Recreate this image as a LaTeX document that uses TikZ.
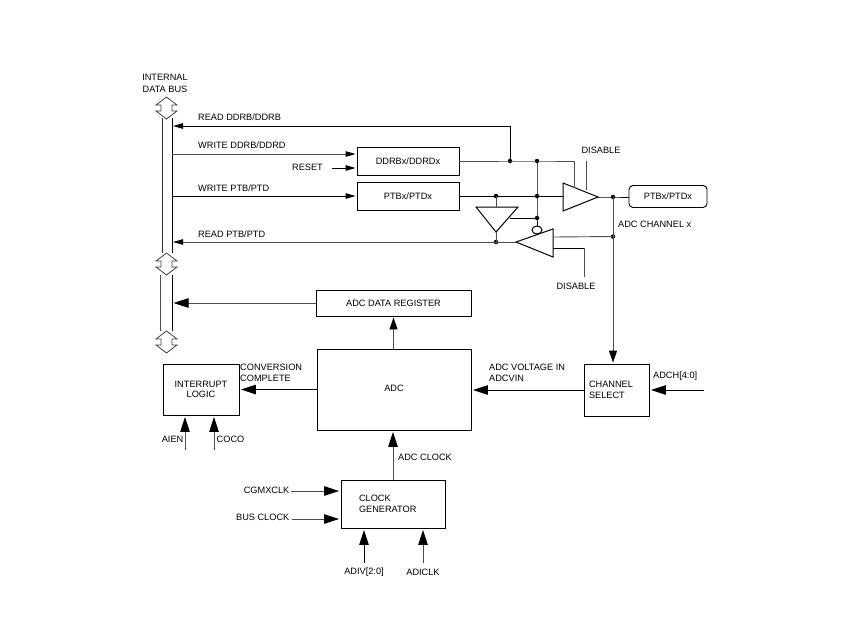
\documentclass[tikz,border=0pt]{standalone}
\usepackage{fontspec}
\setmainfont{Liberation Sans}
\usetikzlibrary{arrows.meta,positioning,calc,shapes.geometric}
\tikzset{
  block/.style = {draw, line width = .9pt, inner sep = 0pt, align = center},
  lbl/.style = {inner sep = 0pt, align = left, font = \fontsize{9.2}{11.5}\selectfont},
  dot/.style = {circle, fill = black, inner sep = 0pt, minimum size = 4.5pt},
  wire/.style = {line width = .9pt, black!70},
  bold/.style = {line width = 1pt, black},
  tipbig/.style = {-{Triangle[length = 15pt, width = 9.5pt, color = black]}, shorten > = 1.5pt},
  tipmid/.style = {-{Triangle[length = 12pt, width = 8pt, color = black]}, shorten > = 1pt},
  tipsmall/.style = {-{Triangle[length = 10pt, width = 5.5pt, color = black]}, shorten > = 1pt},
  busarrow/.pic = {
    \draw[line width = .8pt, black!75, fill = white] (0,-11) -- (-10.5,-3) -- (-5.5,-3) -- (-5.5,3) -- (-10.5,3) -- (0,11)
      -- (10.5,3) -- (5.5,3) -- (5.5,-3) -- (10.5,-3) -- cycle;
  }
}

\begin{document}
\begin{tikzpicture}[x = 1pt, y = -1pt]
  \useasboundingbox (0,0) rectangle (850,638);

  % blocks
  \node[block, minimum width = 102pt, minimum height = 28pt] (ddr) at (408,161) {\fontsize{9.2}{11}\selectfont DDRBx/DDRDx};
  \node[block, minimum width = 102pt, minimum height = 28pt] (ptb) at (408,196) {\fontsize{9.2}{11}\selectfont PTBx/PTDx};
  \node[block, minimum width = 155pt, minimum height = 26pt] (reg) at (393.5,303) {\fontsize{9.2}{11}\selectfont ADC DATA REGISTER};
  \node[block, minimum width = 154pt, minimum height = 81pt] (adc) at (394,389.5) {\fontsize{9.2}{11}\selectfont \raisebox{3pt}{ADC}};
  \node[block, minimum width = 76pt, minimum height = 51pt, font = \fontsize{9.2}{10.5}\selectfont] (irq) at (201,389.5) {INTERRUPT\\LOGIC};
  \node[block, minimum width = 104pt, minimum height = 48pt, text width = 68pt, align = left, font = \fontsize{9.2}{10.5}\selectfont] (clk) at (393,504) {CLOCK\\GENERATOR};
  \node[block, minimum width = 65pt, minimum height = 52pt, text width = 55pt, align = left, font = \fontsize{9.2}{11.5}\selectfont] (sel) at (616.5,390) {CHANNEL\\SELECT};
  \node[block, rounded corners = 4pt, minimum width = 78pt, minimum height = 22pt] (pad) at (668,196.5) {\fontsize{9.2}{11}\selectfont PTBx/PTDx};

  % bus rails
  \coordinate (rd) at (172,126);
  \coordinate (wd) at (172,154);
  \coordinate (wp) at (172,196);
  \coordinate (rp) at (172,242);
  \coordinate (ra) at (172,303);
  \draw[line width = .9pt, black!80] (162,118) -- (162,253);
  \draw[line width = .9pt, black!70] (160.5,275) -- (160.5,331);
  \draw[bold] (172,118) -- (172,253);
  \draw[bold] (172,275) -- (172,331);
  \foreach \y in {108,264,342}
    \pic at (166.5,\y) {busarrow};

  % port drivers
  \coordinate (oa) at (563,183);
  \coordinate (ob) at (563,211);
  \coordinate (oc) at (598,197);
  \coordinate (ia) at (476,207);
  \coordinate (ib) at (518,207);
  \coordinate (ic) at (496,232);
  \coordinate (ie) at (510,218);
  \coordinate (ra1) at (516,242);
  \coordinate (ra2) at (553,229);
  \coordinate (ra3) at (553,257);
  \draw[bold, line join = miter] (oa) -- (ob) -- (oc) -- cycle;
  \draw[bold, line join = miter] (ia) -- (ib) -- (ic) -- cycle;
  \draw[bold, line join = miter] (ra1) -- (ra2) -- (ra3) -- cycle;
  \node[draw, bold, ellipse, inner sep = 0pt, minimum width = 10pt, minimum height = 8pt] (inv) at (537,230) {};

  % junctions
  \node[dot] (j1) at (510,161) {};
  \node[dot] (j2) at (537,161) {};
  \node[dot] (j3) at (496,196) {};
  \node[dot] (j4) at (537,196) {};
  \node[dot] (j5) at (537,218) {};
  \node[dot] (j6) at (496,242) {};
  \node[dot] (j7) at (613,197) {};
  \node[dot] (j8) at (613,236.5) {};

  % register side
  \draw[bold, tipsmall] (j1.center) -- (510,126) -- (rd);
  \draw[wire, tipsmall] (wd) -- (ddr.west |- wd);
  \coordinate (rst) at (332,168);
  \draw[bold, tipsmall] (rst) -- (ddr.west |- rst);
  \draw[bold, tipsmall] (wp) -- (ptb.west |- wp);
  \draw[wire] (ddr.east) -- (j2.center) -- (574,161) -- (574,188);
  \draw[bold] (ptb.east) -- (oa |- ptb.east);
  \draw[bold] (j2.center) -- (j5.center) -- (inv.north);
  \draw[bold] (ie) -- (j5.center);
  \draw[wire] (j3.center) -- (j3 |- ia);
  \draw[wire] (ic) -- (j6.center);
  \draw[wire, tipsmall] (ra1) -- (rp);
  \draw[wire] (553,237) -- (j8.center);
  \draw[bold] (553,248) -- (584,248);
  \draw[wire] (584,248) -- (584,277);
  \draw[wire] (586,161) -- (586,190);
  \draw[bold] (oc) -- (j7.center) -- (pad.west |- j7);
  \draw[wire, tipmid] (j7.center) -- (sel.north -| j7);

  % conversion side
  \draw[wire, tipbig] (reg.west) -- (ra);
  \draw[wire, tipmid] (adc.north -| reg) -- (reg.south);
  \draw[bold, tipbig] (adc.west |- irq) -- (irq.east);
  \draw[bold, tipbig] (sel.west) -- (adc.east |- sel);
  \coordinate (chn) at (704,390);
  \draw[bold, tipbig] (chn) -- (sel.east);
  \coordinate (ien) at (185,450);
  \coordinate (cco) at (214,450);
  \draw[wire, tipbig] (ien) -- (irq.south -| ien);
  \draw[wire, tipbig] (cco) -- (irq.south -| cco);
  \draw[wire, tipbig] (clk.north) -- (adc.south -| clk);
  \coordinate (cgm) at (291,491);
  \coordinate (bus) at (292,519);
  \coordinate (adv) at (364,563);
  \coordinate (adk) at (423,563);
  \draw[wire, tipbig] (cgm) -- (clk.west |- cgm);
  \draw[wire, tipbig] (bus) -- (clk.west |- bus);
  \draw[bold, tipbig] (adv) -- (clk.south -| adv);
  \draw[wire, tipbig] (adk) -- (clk.south -| adk);

  % labels
  \node[lbl, align = center] (busname) at (165,83.5) {INTERNAL\\DATA BUS};
  \node[lbl, anchor = west] (t1) at (198,117) {READ DDRB/DDRB};
  \node[lbl, anchor = west] (t2) at (198,145.5) {WRITE DDRB/DDRD};
  \node[lbl, anchor = east] (t3) at (323,167) {RESET};
  \node[lbl, anchor = west] (t4) at (198,188) {WRITE PTB/PTD};
  \node[lbl, anchor = west] (t5) at (198,234) {READ PTB/PTD};
  \node[lbl] (t6) at (601,150.5) {DISABLE};
  \node[lbl] (t7) at (576,286.5) {DISABLE};
  \node[lbl, anchor = west] (t8) at (618,224.5) {ADC CHANNEL x};
  \node[lbl, anchor = west] (t9) at (240,373) {CONVERSION\\COMPLETE};
  \node[lbl, anchor = west] (t10) at (489,373) {ADC VOLTAGE IN\\ADCVIN};
  \node[lbl, anchor = west] (t11) at (653,376) {ADCH[4:0]};
  \node[lbl, anchor = east] (t12) at (183.5,439) {AIEN};
  \node[lbl, anchor = west] (t13) at (216.5,439) {COCO};
  \node[lbl, anchor = west] (t14) at (398,457) {ADC CLOCK};
  \node[lbl, anchor = east] (t15) at (289.5,490) {CGMXCLK};
  \node[lbl, anchor = east] (t16) at (289.5,517) {BUS CLOCK};
  \node[lbl] (t17) at (364,572) {ADIV[2:0]};
  \node[lbl] (t18) at (423,572) {ADICLK};
\end{tikzpicture}
\end{document}
